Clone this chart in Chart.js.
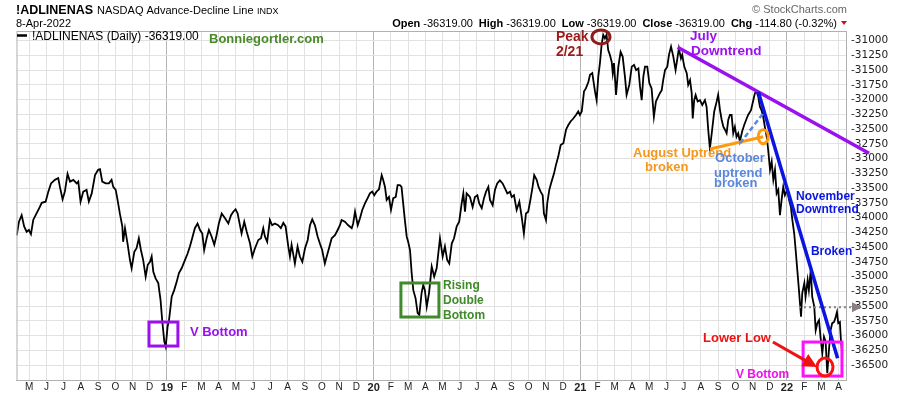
<!DOCTYPE html>
<html>
<head>
<meta charset="utf-8">
<script src="https://cdn.jsdelivr.net/npm/chart.js@4/dist/chart.umd.min.js"></script>
<style>
  html, body { margin: 0; padding: 0; background: #fff; }
  #chart { display: block; }
</style>
</head>
<body>
<canvas id="chart" width="900" height="396"></canvas>
<script>
// NASDAQ Advance-Decline line, dates as decimal years
const adDates = [
  2018.273, 2018.284, 2018.297, 2018.309, 2018.321, 2018.332, 2018.342, 2018.353, 2018.369, 2018.385,
  2018.394, 2018.413, 2018.426, 2018.439, 2018.458, 2018.474, 2018.482, 2018.495, 2018.506, 2018.519,
  2018.531, 2018.547, 2018.563, 2018.571, 2018.582, 2018.595, 2018.611, 2018.622, 2018.636, 2018.652,
  2018.667, 2018.676, 2018.687, 2018.703, 2018.719, 2018.732, 2018.740, 2018.752, 2018.761, 2018.772,
  2018.784, 2018.788, 2018.797, 2018.810, 2018.821, 2018.829, 2018.842, 2018.853, 2018.864, 2018.874,
  2018.885, 2018.897, 2018.907, 2018.918, 2018.926, 2018.934, 2018.945, 2018.958, 2018.969, 2018.977,
  2018.987, 2018.994, 2019.003, 2019.010, 2019.023, 2019.035, 2019.047, 2019.058, 2019.071, 2019.087,
  2019.100, 2019.111, 2019.122, 2019.135, 2019.148, 2019.160, 2019.171, 2019.180, 2019.192, 2019.203,
  2019.216, 2019.229, 2019.240, 2019.251, 2019.265, 2019.281, 2019.297, 2019.310, 2019.321, 2019.332,
  2019.342, 2019.348, 2019.361, 2019.374, 2019.386, 2019.402, 2019.413, 2019.426, 2019.442, 2019.455,
  2019.466, 2019.474, 2019.485, 2019.498, 2019.509, 2019.522, 2019.538, 2019.551, 2019.563, 2019.574,
  2019.587, 2019.595, 2019.603, 2019.619, 2019.632, 2019.643, 2019.655, 2019.668, 2019.681, 2019.692,
  2019.703, 2019.716, 2019.729, 2019.740, 2019.751, 2019.764, 2019.773, 2019.784, 2019.797, 2019.813,
  2019.826, 2019.837, 2019.845, 2019.861, 2019.877, 2019.894, 2019.901, 2019.910, 2019.923, 2019.934,
  2019.945, 2019.958, 2019.971, 2019.982, 2019.993, 2020.003, 2020.014, 2020.026, 2020.039, 2020.046,
  2020.055, 2020.063, 2020.074, 2020.084, 2020.095, 2020.107, 2020.116, 2020.127, 2020.135, 2020.143,
  2020.151, 2020.160, 2020.167, 2020.176, 2020.184, 2020.192, 2020.203, 2020.213, 2020.221, 2020.232,
  2020.240, 2020.248, 2020.257, 2020.268, 2020.281, 2020.293, 2020.305, 2020.321, 2020.334, 2020.345,
  2020.356, 2020.366, 2020.378, 2020.389, 2020.402, 2020.414, 2020.426, 2020.434, 2020.442, 2020.450,
  2020.466, 2020.479, 2020.490, 2020.502, 2020.511, 2020.523, 2020.534, 2020.544, 2020.555, 2020.563,
  2020.576, 2020.587, 2020.598, 2020.611, 2020.624, 2020.635, 2020.647, 2020.660, 2020.668, 2020.679,
  2020.692, 2020.705, 2020.716, 2020.727, 2020.737, 2020.748, 2020.760, 2020.769, 2020.777, 2020.789,
  2020.798, 2020.808, 2020.818, 2020.824, 2020.834, 2020.840, 2020.850, 2020.861, 2020.873, 2020.882,
  2020.893, 2020.905, 2020.918, 2020.931, 2020.942, 2020.953, 2020.966, 2020.979, 2020.990, 2020.998,
  2021.007, 2021.018, 2021.027, 2021.039, 2021.047, 2021.058, 2021.071, 2021.079, 2021.087, 2021.095,
  2021.103, 2021.111, 2021.119, 2021.127, 2021.135, 2021.143, 2021.152, 2021.157, 2021.163, 2021.173,
  2021.184, 2021.195, 2021.205, 2021.216, 2021.224, 2021.237, 2021.249, 2021.260, 2021.270, 2021.281,
  2021.289, 2021.297, 2021.305, 2021.313, 2021.324, 2021.334, 2021.345, 2021.356, 2021.366, 2021.377,
  2021.385, 2021.394, 2021.401, 2021.410, 2021.421, 2021.429, 2021.439, 2021.450, 2021.461, 2021.471,
  2021.477, 2021.487, 2021.493, 2021.503, 2021.515, 2021.522, 2021.531, 2021.539, 2021.544, 2021.551,
  2021.558, 2021.568, 2021.579, 2021.590, 2021.603, 2021.611, 2021.619, 2021.627, 2021.636, 2021.648,
  2021.660, 2021.667, 2021.676, 2021.684, 2021.692, 2021.700, 2021.708, 2021.716, 2021.724, 2021.732,
  2021.740, 2021.748, 2021.756, 2021.764, 2021.772, 2021.783, 2021.793, 2021.805, 2021.812, 2021.826,
  2021.837, 2021.845, 2021.853, 2021.861, 2021.869, 2021.877, 2021.885, 2021.893, 2021.902, 2021.909,
  2021.918, 2021.926, 2021.934, 2021.942, 2021.950, 2021.958, 2021.966, 2021.974, 2021.982, 2021.990,
  2022.001, 2022.010, 2022.019, 2022.026, 2022.035, 2022.042, 2022.050, 2022.058, 2022.068, 2022.074,
  2022.084, 2022.090, 2022.100, 2022.106, 2022.115, 2022.122, 2022.132, 2022.139, 2022.147, 2022.155,
  2022.163, 2022.171, 2022.179, 2022.187, 2022.195, 2022.203, 2022.211, 2022.219, 2022.228, 2022.236,
  2022.242, 2022.248, 2022.256, 2022.261, 2022.268
];
const adValues = [
  -34300, -34070, -33960, -34150, -34240, -34210, -34280, -34040, -33930, -33820,
  -33750, -33730, -33560, -33420, -33360, -33330, -33480, -33690, -33560, -33260,
  -33390, -33360, -33420, -33390, -33730, -33560, -33530, -33730, -33590, -33280,
  -33190, -33180, -33390, -33420, -33420, -33360, -33480, -33530, -33700, -33930,
  -34150, -34410, -34180, -34460, -34720, -34860, -34580, -34520, -34350, -34550,
  -34720, -35000, -34800, -34750, -34660, -34920, -35030, -35110, -35400, -35740,
  -36100, -36190, -35850, -35740, -35340, -35230, -35090, -34940, -34860, -34720,
  -34610, -34490, -34350, -34180, -34100, -34210, -34270, -34550, -34350, -34210,
  -34320, -34460, -34300, -34100, -33930, -34010, -34100, -33960, -33900, -33860,
  -33930, -34040, -34270, -34070, -34240, -34440, -34660, -34520, -34380, -34350,
  -34180, -34320, -34410, -34040, -34130, -34100, -34130, -34180, -34090, -34150,
  -34490, -34660, -34460, -34780, -34490, -34660, -34750, -34520, -34380, -34130,
  -34030, -34130, -34320, -34440, -34550, -34780, -34660, -34520, -34350, -34300,
  -34210, -34130, -34040, -34070, -34130, -34180, -34100, -33900, -34130, -34010,
  -33870, -33760, -33670, -33590, -33560, -33620, -33560, -33520, -33280, -33360,
  -33480, -33700, -33650, -33870, -33670, -33650, -33450, -33450, -33480, -33760,
  -34040, -34320, -34410, -34550, -34940, -35230, -35370, -35620, -35650, -35280,
  -35140, -35230, -35510, -35280, -34830, -35000, -34860, -34350, -34660, -34490,
  -34720, -34780, -34440, -34350, -34150, -34070, -33760, -33590, -33900, -33590,
  -33650, -33820, -33650, -33620, -33760, -33840, -33670, -33560, -33480, -33700,
  -33790, -33530, -33420, -33370, -33420, -33500, -33590, -33560, -33650, -33620,
  -33870, -33730, -33980, -34270, -33930, -33900, -33670, -33480, -33280, -33360,
  -33480, -33560, -33620, -33930, -34040, -33760, -33530, -33390, -33250, -33110,
  -32970, -32770, -32740, -32510, -32430, -32370, -32320, -32260, -32200, -32260,
  -32200, -31860, -31810, -31700, -31580, -31550, -31860, -32010, -31610, -31380,
  -31070, -30900, -30960, -30900, -31160, -31240, -31360, -31550, -31380, -31920,
  -31440, -31190, -31270, -31610, -31920, -31750, -31440, -31410, -31500, -31470,
  -31780, -32010, -31610, -31440, -31440, -31720, -31810, -32290, -32030, -31950,
  -31890, -31840, -31670, -31500, -31440, -31240, -31100, -31270, -31500, -31270,
  -31130, -31300, -31240, -31440, -31550, -31750, -31670, -31890, -32320, -32010,
  -31920, -32030, -32010, -32090, -32010, -32120, -32510, -32830, -32570, -32200,
  -32030, -31920, -32180, -32340, -32460, -32510, -32570, -32340, -32260, -32260,
  -32570, -32460, -32630, -32570, -32710, -32540, -32430, -32320, -32260, -32180,
  -32010, -31890, -31860, -31950, -32120, -32180, -32290, -32460, -32630, -32850,
  -33190, -33050, -33360, -33190, -33590, -33530, -33960, -33700, -33480, -33620,
  -33530, -33700, -33820, -34040, -34270, -34550, -34890, -35230, -35680, -35280,
  -35110, -35340, -35060, -35230, -34890, -35340, -35510, -35910, -35790, -35740,
  -36050, -36300, -36020, -36100, -36640, -36250, -35910, -35790, -35770, -35680,
  -35600, -35790, -35770, -36080, -36319
];

// axis ranges and ticks
const X_MIN = 2018.272;
const X_MAX = 2022.2856;
const Y_MIN = -36754;
const Y_MAX = -30836;
const monthLetters = ['J', 'F', 'M', 'A', 'M', 'J', 'J', 'A', 'S', 'O', 'N', 'D'];
const firstMonth = 2018 * 12 + 4;   // May 2018
const lastMonth = 2022 * 12 + 3;    // Apr 2022
const yTickValues = [];
for (let v = -36500; v <= -31000; v += 250) yTickValues.push(v);

// annotations (data coordinates)
const trendLines = [
  { from: [2021.471, -31112], to: [2022.397, -32910], color: '#9a10ee', width: 3.5 },            // July downtrend
  { from: [2021.861, -31865], to: [2022.245, -36386], color: '#0a16e0', width: 3.5 },            // November downtrend
  { from: [2021.627, -32837], to: [2021.885, -32628], color: '#ff9a10', width: 3 },              // August uptrend
  { from: [2021.773, -32740], to: [2021.885, -32231], color: '#5b87db', width: 2.5, dash: [5, 3] } // October uptrend
];
const boxes = [
  { x0: 2018.913, x1: 2019.053, y0: -35771, y1: -36178, color: '#9a10ee' },
  { x0: 2020.132, x1: 2020.316, y0: -35109, y1: -35686, color: '#3f8a2a' },
  { x0: 2022.078, x1: 2022.266, y0: -36110, y1: -36687, color: '#ff10ff' }
];
const rings = [
  { x: 2021.100, y: -30937, rx: 9, ry: 7, color: '#8e1c1c' },
  { x: 2021.885, y: -32628, rx: 5, ry: 7, color: '#ff9a10' },
  { x: 2022.184, y: -36534, rx: 8, ry: 9, color: '#ff1010' }
];
const notes = [
  { text: 'Peak', x: 2020.882, y: -30937, color: '#9b1b1b', size: 14 },
  { text: '2/21', x: 2020.882, y: -31192, color: '#9b1b1b', size: 14 },
  { text: 'July', x: 2021.531, y: -30920, color: '#9a10ee', size: 13.5 },
  { text: 'Downtrend', x: 2021.536, y: -31175, color: '#9a10ee', size: 13.5 },
  { text: 'August Uptrend', x: 2021.255, y: -32905, color: '#f5961e', size: 13 },
  { text: 'broken', x: 2021.313, y: -33142, color: '#f5961e', size: 13 },
  { text: 'October', x: 2021.652, y: -32989, color: '#5b87db', size: 13 },
  { text: 'uptrend', x: 2021.647, y: -33244, color: '#5b87db', size: 13 },
  { text: 'broken', x: 2021.647, y: -33422, color: '#5b87db', size: 13 },
  { text: 'November', x: 2022.044, y: -33651, color: '#0a16e0', size: 12 },
  { text: 'Downtrend', x: 2022.044, y: -33871, color: '#0a16e0', size: 12 },
  { text: 'Broken', x: 2022.116, y: -34584, color: '#0a16e0', size: 12 },
  { text: 'Lower Low', x: 2021.594, y: -36042, color: '#ee1111', size: 13 },
  { text: 'V Bottom', x: 2021.753, y: -36670, color: '#ee10ee', size: 12 },
  { text: 'V Bottom', x: 2019.111, y: -35940, color: '#9a10ee', size: 13 },
  { text: 'Rising', x: 2020.336, y: -35160, color: '#3f8a2a', size: 12 },
  { text: 'Double', x: 2020.336, y: -35415, color: '#3f8a2a', size: 12 },
  { text: 'Bottom', x: 2020.336, y: -35669, color: '#3f8a2a', size: 12 }
];
const arrow = { from: [2021.932, -36110], to: [2022.145, -36534], color: '#ee1111' };
const priorLevel = { value: -35521, start: 2022.058 };

const FONT = "'Liberation Sans', Arial, sans-serif";

const xTickValues = [];
for (let m = firstMonth; m <= lastMonth; m++) xTickValues.push(m / 12);
const isYearTick = (v) => Math.abs(Math.round(v) - v) < 1e-6;

const overlayPlugin = {
  id: 'overlay',
  afterDraw(chart) {
    const ctx = chart.ctx;
    const xs = chart.scales.x;
    const ys = chart.scales.y;
    const px = (x, y) => ({ x: xs.getPixelForValue(x), y: ys.getPixelForValue(y) });
    const area = chart.chartArea;

    ctx.save();
    // plot border (top/left)
    ctx.strokeStyle = '#b0b0b0';
    ctx.lineWidth = 1;
    ctx.strokeRect(area.left + 0.5, area.top + 0.5, area.right - area.left, area.bottom - area.top);

    // prior level dotted line + marker
    const lv = px(priorLevel.start, priorLevel.value);
    ctx.strokeStyle = '#8a8080';
    ctx.lineWidth = 2;
    ctx.setLineDash([2, 3]);
    ctx.beginPath();
    ctx.moveTo(lv.x, lv.y);
    ctx.lineTo(area.right + 6, lv.y);
    ctx.stroke();
    ctx.setLineDash([]);
    ctx.fillStyle = '#8a8080';
    ctx.beginPath();
    ctx.moveTo(area.right + 6, lv.y - 5);
    ctx.lineTo(area.right + 16, lv.y);
    ctx.lineTo(area.right + 6, lv.y + 5);
    ctx.closePath();
    ctx.fill();

    // trend lines
    trendLines.forEach(t => {
      const a = px(t.from[0], t.from[1]);
      const b = px(t.to[0], t.to[1]);
      ctx.strokeStyle = t.color;
      ctx.lineWidth = t.width;
      ctx.setLineDash(t.dash || []);
      ctx.beginPath();
      ctx.moveTo(a.x, a.y);
      ctx.lineTo(b.x, b.y);
      ctx.stroke();
    });
    ctx.setLineDash([]);

    // boxes
    boxes.forEach(b => {
      const p0 = px(b.x0, b.y0);
      const p1 = px(b.x1, b.y1);
      ctx.strokeStyle = b.color;
      ctx.lineWidth = 3;
      ctx.strokeRect(p0.x, p0.y, p1.x - p0.x, p1.y - p0.y);
    });

    // arrow
    const a0 = px(arrow.from[0], arrow.from[1]);
    const a1 = px(arrow.to[0], arrow.to[1]);
    const ang = Math.atan2(a1.y - a0.y, a1.x - a0.x);
    ctx.strokeStyle = arrow.color;
    ctx.fillStyle = arrow.color;
    ctx.lineWidth = 3;
    ctx.beginPath();
    ctx.moveTo(a0.x, a0.y);
    ctx.lineTo(a1.x - 10 * Math.cos(ang), a1.y - 10 * Math.sin(ang));
    ctx.stroke();
    ctx.beginPath();
    ctx.moveTo(a1.x, a1.y);
    ctx.lineTo(a1.x - 14 * Math.cos(ang) + 7 * Math.sin(ang), a1.y - 14 * Math.sin(ang) - 7 * Math.cos(ang));
    ctx.lineTo(a1.x - 14 * Math.cos(ang) - 7 * Math.sin(ang), a1.y - 14 * Math.sin(ang) + 7 * Math.cos(ang));
    ctx.closePath();
    ctx.fill();

    // rings
    rings.forEach(r => {
      const c = px(r.x, r.y);
      ctx.strokeStyle = r.color;
      ctx.lineWidth = 3;
      ctx.beginPath();
      ctx.ellipse(c.x, c.y, r.rx, r.ry, 0, 0, Math.PI * 2);
      ctx.stroke();
    });

    // notes
    ctx.textAlign = 'left';
    ctx.textBaseline = 'middle';
    notes.forEach(n => {
      const p = px(n.x, n.y);
      ctx.font = `bold ${n.size}px ${FONT}`;
      ctx.fillStyle = n.color;
      ctx.fillText(n.text, p.x, p.y);
    });

    // header
    ctx.textBaseline = 'alphabetic';
    ctx.fillStyle = '#000';
    ctx.font = `bold 12.5px ${FONT}`;
    ctx.fillText('!ADLINENAS', 16, 14);
    ctx.font = `11px ${FONT}`;
    ctx.fillText('NASDAQ Advance-Decline Line', 97, 14);
    ctx.font = `9px ${FONT}`;
    ctx.fillText('INDX', 257, 14);
    ctx.font = `11px ${FONT}`;
    ctx.fillText('8-Apr-2022', 16, 27);

    ctx.fillStyle = '#666';
    ctx.textAlign = 'right';
    ctx.font = `11px ${FONT}`;
    ctx.fillText('\u00A9 StockCharts.com', 847, 13);

    // OHLC row, right aligned
    const parts = [
      ['Open', '-36319.00'], ['High', '-36319.00'], ['Low', '-36319.00'],
      ['Close', '-36319.00'], ['Chg', '-114.80 (-0.32%)']
    ];
    ctx.textAlign = 'left';
    let total = 0;
    const widths = parts.map(([k, v]) => {
      ctx.font = `bold 11px ${FONT}`;
      const kw = ctx.measureText(k).width;
      ctx.font = `11px ${FONT}`;
      const vw = ctx.measureText(v).width;
      total += kw + 3 + vw;
      return [kw, vw];
    });
    total += 6 * (parts.length - 1);
    let x = 837 - total;
    parts.forEach(([k, v], i) => {
      ctx.fillStyle = '#000';
      ctx.font = `bold 11px ${FONT}`;
      ctx.fillText(k, x, 27);
      x += widths[i][0] + 3;
      ctx.font = `11px ${FONT}`;
      ctx.fillText(v, x, 27);
      x += widths[i][1] + 6;
    });
    ctx.fillStyle = '#c81414';
    ctx.beginPath();
    ctx.moveTo(841, 21);
    ctx.lineTo(847, 21);
    ctx.lineTo(844, 25);
    ctx.closePath();
    ctx.fill();

    // legend
    ctx.strokeStyle = '#000';
    ctx.lineWidth = 2.5;
    ctx.beginPath();
    ctx.moveTo(17, 35.5);
    ctx.lineTo(27, 35.5);
    ctx.stroke();
    ctx.fillStyle = '#000';
    ctx.font = `12px ${FONT}`;
    ctx.fillText('!ADLINENAS (Daily) -36319.00', 32, 40);

    ctx.fillStyle = '#4a8a2a';
    ctx.font = `bold 13px ${FONT}`;
    ctx.fillText('Bonniegortler.com', 209, 43);
    ctx.restore();
  }
};

new Chart(document.getElementById('chart'), {
  type: 'line',
  data: {
    datasets: [{
      label: '!ADLINENAS (Daily)',
      data: adDates.map((d, i) => ({ x: d, y: adValues[i] })),
      borderColor: '#000',
      borderWidth: 1.8,
      pointRadius: 0,
      tension: 0,
      fill: false
    }]
  },
  options: {
    responsive: false,
    animation: false,
    devicePixelRatio: 1,
    layout: { padding: { left: 16.5, top: 31, right: 0, bottom: 0 } },
    plugins: {
      legend: { display: false },
      tooltip: { enabled: false }
    },
    scales: {
      x: {
        type: 'linear',
        min: X_MIN,
        max: X_MAX,
        afterBuildTicks: (scale) => { scale.ticks = xTickValues.map(v => ({ value: v })); },
        afterFit: (scale) => { scale.height = 16; },
        ticks: {
          autoSkip: false,
          maxRotation: 0,
          padding: 1,
          color: '#222',
          font: (c) => ({
            family: FONT,
            size: c.tick && isYearTick(c.tick.value) ? 11 : 10,
            weight: c.tick && isYearTick(c.tick.value) ? 'bold' : 'normal'
          }),
          callback: (v) => {
            const m = Math.round(v * 12);
            return m % 12 === 0 ? String(m / 12).slice(2) : monthLetters[m % 12];
          }
        },
        grid: {
          drawTicks: false,
          color: (c) => (c.tick && isYearTick(c.tick.value) ? '#b4b4b4' : '#e2e2e2')
        },
        border: { color: '#b0b0b0' }
      },
      y: {
        position: 'right',
        min: Y_MIN,
        max: Y_MAX,
        afterBuildTicks: (scale) => { scale.ticks = yTickValues.map(v => ({ value: v })); },
        afterFit: (scale) => { scale.width = 54; },
        ticks: {
          autoSkip: false,
          padding: 5,
          color: '#222',
          font: { family: "'DejaVu Sans', sans-serif", size: 10.5 },
          callback: (v) => String(v)
        },
        grid: { drawTicks: false, color: '#e2e2e2' },
        border: { color: '#b0b0b0' }
      }
    }
  },
  plugins: [overlayPlugin]
});
</script>
</body>
</html>
